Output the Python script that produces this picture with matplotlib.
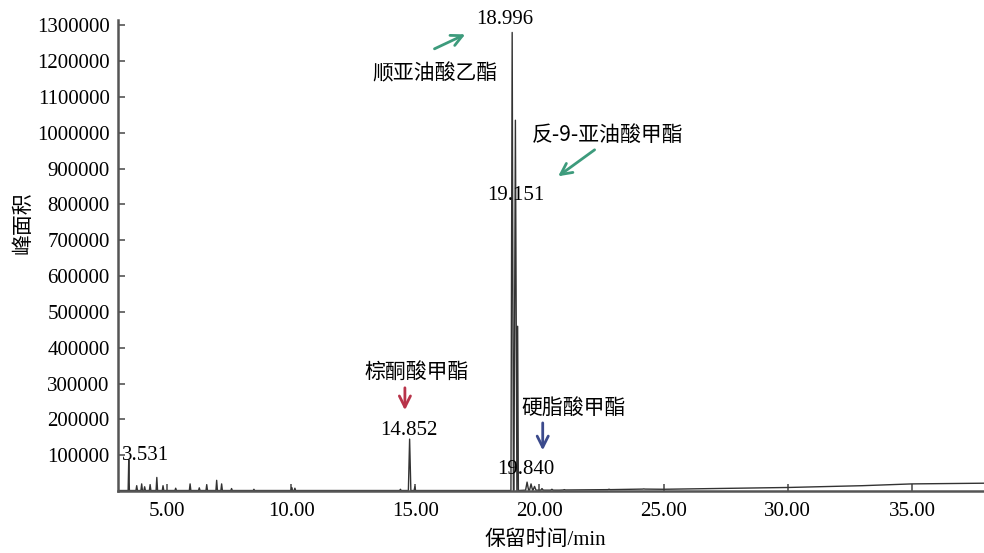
import matplotlib.pyplot as plt

# peak table: retention time (min), height (peak area units)
peak_rt = [3.46, 3.78, 3.98, 4.10, 4.32, 4.59, 4.84, 5.35, 5.93, 6.30, 6.60, 7.00, 7.20,
           7.60, 8.50, 10.02, 10.15, 14.40, 14.77, 14.98,
           18.90, 19.03, 19.12, 19.50, 19.66, 19.80, 20.10, 20.50, 21.00, 22.80, 24.20]
peak_height = [88000, 15000, 20000, 12000, 18000, 38000, 15000, 8000, 20000, 9000, 18000, 30000, 20000,
               7000, 5000, 10000, 8000, 5000, 145000, 12000,
               1280000, 1035000, 460000, 25000, 20000, 13000, 7000, 5000, 4000, 5000, 6000]
peak_halfwidth = [0.025, 0.03, 0.03, 0.03, 0.03, 0.03, 0.03, 0.03, 0.03, 0.03, 0.03, 0.03, 0.03,
                  0.03, 0.03, 0.03, 0.03, 0.03, 0.05, 0.03,
                  0.05, 0.06, 0.03, 0.06, 0.06, 0.06, 0.05, 0.05, 0.05, 0.05, 0.05]
peak_base = [1500] * 23 + [2500, 2500, 2500, 2500, 2500, 3000, 4000, 5500]

# baseline drift
base_rt = [3.0, 10.0, 18.5, 20.8, 25.0, 27.0, 30.0, 33.0, 35.0, 38.0]
base_level = [1500, 1500, 1500, 2500, 5000, 7000, 10000, 15000, 20000, 22000]

yticks = [100000, 200000, 300000, 400000, 500000, 600000, 700000,
          800000, 900000, 1000000, 1100000, 1200000, 1300000]
xticks = [5, 10, 15, 20, 25, 30, 35]

# build the trace from the baseline points and the peak triangles
points = list(zip(base_rt, base_level))
for rt, h, hw, b in zip(peak_rt, peak_height, peak_halfwidth, peak_base):
    points += [(rt - hw, b), (rt, h), (rt + hw, b)]
points.sort()
trace_t = [p[0] for p in points]
trace_y = [p[1] for p in points]

serif = ['Liberation Serif', 'Noto Sans CJK SC']
cjk = ['Noto Sans CJK SC', 'Liberation Serif']
plt.rcParams['font.family'] = serif
plt.rcParams['font.size'] = 15

fig = plt.figure(figsize=(9.84, 5.53), dpi=100)
ax = fig.add_axes([0.12, 0.112, 0.88, 0.852])
ax.plot(trace_t, trace_y, color='#333333', lw=1.0)

ax.set_xlim(3.03, 37.9)
ax.set_ylim(0, 1315000)
ax.set_xticks(xticks)
ax.set_xticklabels([f'{v:.2f}' for v in xticks])
ax.set_yticks(yticks)
ax.set_yticklabels([str(v) for v in yticks])
ax.tick_params(direction='in', length=5, width=1.2, color='#555555', pad=6)
ax.tick_params(axis='x', pad=8)
for s in ['top', 'right']:
    ax.spines[s].set_visible(False)
for s in ['left', 'bottom']:
    ax.spines[s].set_color('#555555')
    ax.spines[s].set_linewidth(1.8)

ax.set_xlabel('保留时间/min', family=serif, va='center')
ax.xaxis.set_label_coords(0.493, -0.104)
ax.set_ylabel('峰面积', family=cjk)
ax.yaxis.set_label_coords(-0.098, 0.57)

# retention time labels
ax.text(18.6, 1315000, '18.996', ha='center', va='center', clip_on=False)
ax.text(19.05, 826000, '19.151', ha='center', va='center')
ax.text(14.74, 170000, '14.852', ha='center', va='center')
ax.text(19.45, 59000, '19.840', ha='center', va='center')
ax.text(3.2, 100000, '3.531', ha='left', va='center')

# compound names and arrows
green = '#3d9b7c'
ax.text(15.79, 1167000, '顺亚油酸乙酯', ha='center', va='center', family=cjk)
ax.annotate('', xy=(17.11, 1278000), xytext=(15.67, 1231000),
            arrowprops=dict(arrowstyle='->', color=green, lw=2, mutation_scale=20))
ax.text(22.75, 994000, '反-9-亚油酸甲酯', ha='center', va='center', family=cjk)
ax.annotate('', xy=(20.66, 874000), xytext=(22.31, 957000),
            arrowprops=dict(arrowstyle='->', color=green, lw=2, mutation_scale=20))
ax.text(15.06, 332000, '棕酮酸甲酯', ha='center', va='center', family=cjk)
ax.annotate('', xy=(14.58, 218000), xytext=(14.58, 296000),
            arrowprops=dict(arrowstyle='->', color='#b8334a', lw=2, mutation_scale=20))
ax.text(21.38, 232000, '硬脂酸甲酯', ha='center', va='center', family=cjk)
ax.annotate('', xy=(20.13, 106000), xytext=(20.13, 198000),
            arrowprops=dict(arrowstyle='->', color='#3b4a8c', lw=2, mutation_scale=20))

fig.savefig('out.png', dpi=100)
